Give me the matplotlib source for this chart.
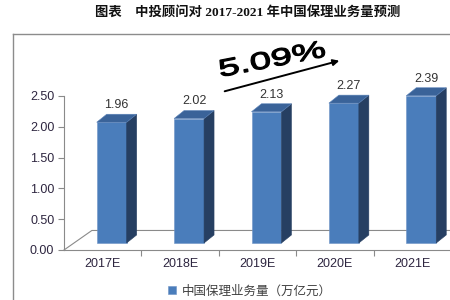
import numpy as np
import matplotlib.pyplot as plt
from matplotlib.patches import Polygon, PathPatch, FancyArrowPatch
from matplotlib.textpath import TextPath
from matplotlib.font_manager import FontProperties
from matplotlib.lines import Line2D
from matplotlib.transforms import Affine2D

plt.rcParams['font.family'] = ['Liberation Sans', 'Noto Sans CJK SC']

years = ['2017E', '2018E', '2019E', '2020E', '2021E']
values = [1.96, 2.02, 2.13, 2.27, 2.39]
yticks = [0.0, 0.5, 1.0, 1.5, 2.0, 2.5]
series_name = '中国保理业务量（万亿元）'
title = '图表　中投顾问对 2017-2021 年中国保理业务量预测'
growth = '5.09%'

W, H = 450, 300
fig = plt.figure(figsize=(4.5, 3), dpi=100)
ax = fig.add_axes([64 / W, 50 / H, 387 / W, 154 / H])
ax.set_xlim(0, 5)
ax.set_ylim(0, 2.5)

front = '#4a7dbb'
side = '#263f62'
top = '#3a6399'
axcol = '#8a8a8a'
labcol = '#2e2640'

# 3d-ish bars
xc = np.arange(len(values)) + 0.5
off_x, base = 0.116, 0.114
bw = 0.387
ddx, ddy = 0.129, 0.13
ax.bar(xc + off_x, values, width=bw, bottom=base, color=front,
       edgecolor='#6d93c6', linewidth=0.4, label=series_name, clip_on=False, zorder=3)
for x, v in zip(xc + off_x, values):
    l, r = x - bw / 2, x + bw / 2
    t = base + v
    ax.add_patch(Polygon([(r, base), (r + ddx, base + ddy), (r + ddx, t + ddy), (r, t)],
                         closed=True, fc=side, ec=side, lw=0.4, clip_on=False, zorder=3))
    ax.add_patch(Polygon([(l, t), (l + ddx, t + ddy), (r + ddx, t + ddy), (r, t)],
                         closed=True, fc=top, ec='#5a82b8', lw=0.4, clip_on=False, zorder=3))
    ax.text(x + ddx / 2, t + ddy + 0.15, '%.2f' % v, ha='center', va='center',
            fontsize=9, color='#333333')

# floor
ax.plot([0, 0.36, 5.05], [0, 0.317, 0.317], color=axcol, lw=0.8, clip_on=False, zorder=1)

for s in ['top', 'right']:
    ax.spines[s].set_visible(False)
for s in ['left', 'bottom']:
    ax.spines[s].set_color(axcol)
    ax.spines[s].set_linewidth(0.8)
ax.spines['bottom'].set_bounds(0, 5.05)

ax.set_yticks(yticks)
ax.set_yticklabels(['%.2f' % t for t in yticks])
ax.set_xticks([1, 2, 3, 4])
ax.set_xticklabels([])
ax.set_xticks(xc, minor=True)
ax.set_xticklabels(years, minor=True)
ax.tick_params(axis='x', which='major', length=4, color=axcol, direction='out')
ax.tick_params(axis='x', which='minor', length=0, pad=6, labelsize=9, labelcolor=labcol)
ax.tick_params(axis='y', length=4, color=axcol, pad=3, labelsize=9, labelcolor=labcol)

# outer frame
fig.add_artist(Line2D([13 / W, 13 / W], [0, 1 - 34 / H], color='#8c8c8c', lw=1))
fig.add_artist(Line2D([13 / W, 1], [1 - 34 / H, 1 - 34 / H], color='#8c8c8c', lw=1))

fig.text(248 / W, 1 - 12 / H, title, ha='center', va='center', fontsize=9.6,
         fontweight='bold', family=['Liberation Serif', 'Noto Sans CJK SC'], color='#111111')

# growth note with stretched text
tp = TextPath((0, 0), growth, size=24, prop=FontProperties(family='Liberation Sans'))
tr = (Affine2D().scale(1.6, 1.0).rotate_deg(11).translate(220, H - 77)
      + Affine2D().scale(1 / W, 1 / H) + fig.transFigure)
fig.add_artist(PathPatch(tp, transform=tr, fc='black', ec='black', lw=0.9))
fig.add_artist(FancyArrowPatch((222 / W, 1 - 92 / H), (342 / W, 1 - 60 / H),
                               transform=fig.transFigure, arrowstyle='-|>',
                               mutation_scale=9, lw=1.4, color='black'))

leg = ax.legend(loc='center', bbox_to_anchor=(250 / W, 9 / H), bbox_transform=fig.transFigure,
                frameon=False, handlelength=0.6, handleheight=0.6, handletextpad=0.5,
                prop=FontProperties(family=['Noto Sans CJK SC'], size=9))
for t in leg.get_texts():
    t.set_color('#404040')

fig.savefig('out.png', dpi=100)
